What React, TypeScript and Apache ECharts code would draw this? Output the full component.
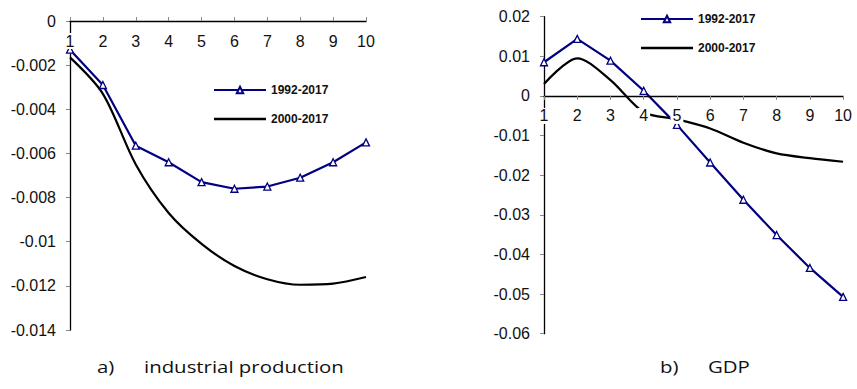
import React, { useEffect, useRef } from "react";
import * as echarts from "echarts";

// Horizon steps shared by both panels
const steps = ["1", "2", "3", "4", "5", "6", "7", "8", "9", "10"];

// Panel a) industrial production responses
const ipLong = [-0.0013, -0.0029, -0.00565, -0.0064, -0.0073, -0.0076, -0.0075, -0.0071, -0.0064, -0.0055];
const ipShort = [-0.00165, -0.0033, -0.0065, -0.0087, -0.0101, -0.0111, -0.0117, -0.01195, -0.0119, -0.0116];

// Panel b) GDP responses
const gdpLong = [0.0085, 0.0144, 0.0089, 0.0013, -0.0073, -0.0168, -0.0262, -0.0351, -0.0434, -0.0507];
const gdpShort = [0.003, 0.0095, 0.004, -0.0041, -0.0059, -0.0082, -0.0118, -0.0145, -0.0157, -0.0166];

const seriesNames = ["1992-2017", "2000-2017"];
const captions = [
  { tag: "a)", title: "industrial production" },
  { tag: "b)", title: "GDP" },
];

// Value ranges of the two panels
const ipRange = { min: -0.014, max: 0, interval: 0.002 };
const gdpRange = { min: -0.06, max: 0.02, interval: 0.01 };

const NAVY = "#000080";
const AXIS_FONT = "'Liberation Sans'";

const grids = [
  { left: 70, top: 21, width: 296, height: 309 },
  { left: 544, top: 16.7, width: 305, height: 317 },
];

// The category axis sits on the zero line of its panel, labels hang below it
function xAxisFor(gridIndex: number, range: { min: number; max: number }, tickInside: boolean) {
  const g = grids[gridIndex];
  const zeroOffset = -((range.max - 0) / (range.max - range.min)) * g.height;
  return {
    type: "category",
    gridIndex,
    data: steps,
    boundaryGap: false,
    position: "top",
    offset: zeroOffset,
    z: 5,
    axisLine: { onZero: false, lineStyle: { color: "#000", width: 1.3 } },
    axisTick: { show: true, inside: tickInside, length: 4, lineStyle: { color: "#888" } },
    axisLabel: {
      inside: true,
      color: "#111",
      fontSize: 16,
      fontFamily: AXIS_FONT,
      margin: 12,
      backgroundColor: "#fff",
      padding: [0, 2, 0, 2],
      interval: 0,
    },
    splitLine: { show: false },
  };
}

function yAxisFor(gridIndex: number, range: { min: number; max: number; interval: number }) {
  return {
    type: "value",
    gridIndex,
    min: range.min,
    max: range.max,
    interval: range.interval,
    axisLine: { show: true, onZero: false, lineStyle: { color: "#000", width: 1.3 } },
    axisTick: { show: true, length: 4, lineStyle: { color: "#888" } },
    axisLabel: {
      color: "#111",
      fontSize: 16,
      fontFamily: AXIS_FONT,
      margin: 14,
    },
    splitLine: { show: false },
  };
}

function longSeries(data: number[], idx: number) {
  return {
    name: seriesNames[0],
    type: "line",
    xAxisIndex: idx,
    yAxisIndex: idx,
    data,
    symbol: "triangle",
    symbolSize: 7,
    showSymbol: true,
    z: 3,
    lineStyle: { color: NAVY, width: 2.2 },
    itemStyle: { color: "#fff", borderColor: NAVY, borderWidth: 1.3 },
  };
}

function shortSeries(data: number[], idx: number) {
  return {
    name: seriesNames[1],
    type: "line",
    xAxisIndex: idx,
    yAxisIndex: idx,
    data,
    smooth: 0.3,
    showSymbol: false,
    symbol: "none",
    z: 2,
    lineStyle: { color: "#000", width: 2.2 },
    itemStyle: { color: "#000" },
  };
}

function legendAt(left: number, top: number) {
  return {
    orient: "vertical",
    left,
    top,
    itemWidth: 52,
    itemHeight: 8,
    itemGap: 17,
    selectedMode: false,
    data: [
      { name: seriesNames[0] },
      { name: seriesNames[1], icon: "path://M0,0H52V2.6H0Z" },
    ],
    textStyle: {
      fontFamily: AXIS_FONT,
      fontWeight: "bold",
      fontSize: 12,
      color: "#111",
    },
  };
}

function captionGraphics() {
  const font = "17px 'Open Sans', sans-serif";
  const spots = [
    { tagX: 97, titleX: 144 },
    { tagX: 660, titleX: 708 },
  ];
  const out: any[] = [];
  captions.forEach((c, i) => {
    out.push({
      type: "text",
      x: spots[i].tagX,
      y: 366,
      scaleX: 1.2,
      style: { text: c.tag, font, fill: "#111", verticalAlign: "middle" },
    });
    out.push({
      type: "text",
      x: spots[i].titleX,
      y: 366,
      scaleX: 1.2,
      style: { text: c.title, font, fill: "#111", verticalAlign: "middle" },
    });
  });
  return out;
}

export default function App() {
  const ref = useRef<HTMLDivElement>(null);

  useEffect(() => {
    if (!ref.current) return;
    const chart = echarts.init(ref.current, null, { renderer: "svg" });
    chart.setOption({
      animation: false,
      backgroundColor: "#fff",
      grid: grids,
      xAxis: [xAxisFor(0, ipRange, false), xAxisFor(1, gdpRange, true)],
      yAxis: [yAxisFor(0, ipRange), yAxisFor(1, gdpRange)],
      legend: [legendAt(208, 79), legendAt(635, 8)],
      series: [
        longSeries(ipLong, 0),
        shortSeries(ipShort, 0),
        longSeries(gdpLong, 1),
        shortSeries(gdpShort, 1),
      ],
      graphic: captionGraphics(),
    });
    return () => chart.dispose();
  }, []);

  return (
    <div
      ref={ref}
      style={{ position: "absolute", left: 0, top: 0, width: 857, height: 389 }}
    />
  );
}
